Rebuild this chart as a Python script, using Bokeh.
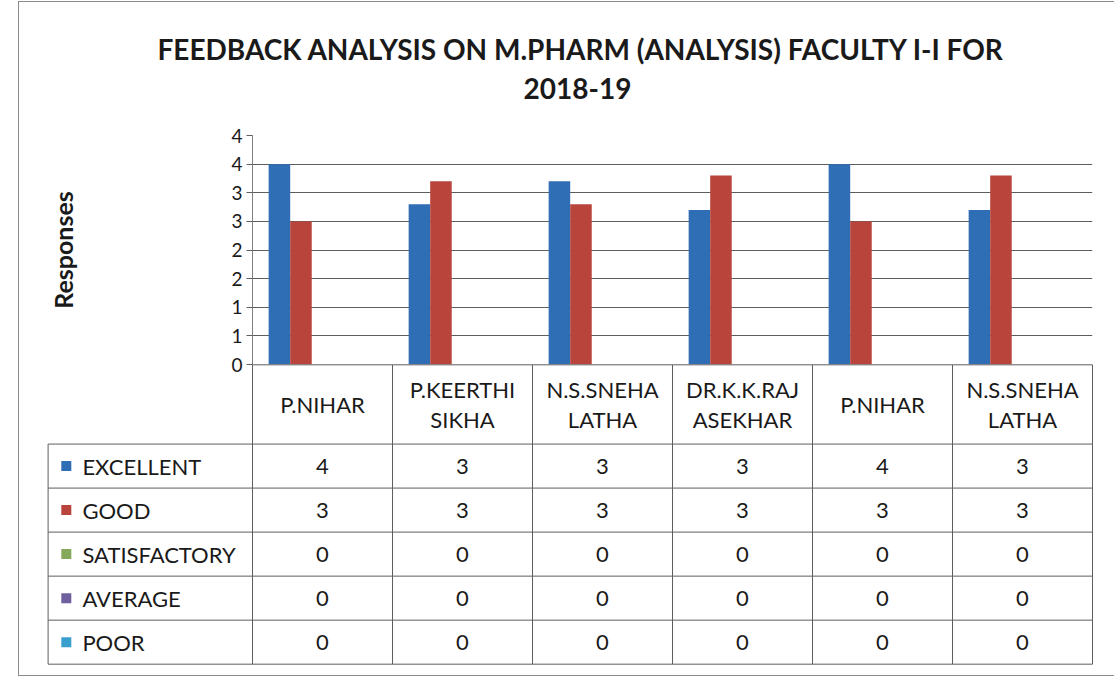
import math
from bokeh.plotting import figure
from bokeh.models import Range1d, FixedTicker, CustomJSTickFormatter, Title, ColumnDataSource
from bokeh.embed import file_html
from bokeh.resources import INLINE
from bokeh.core.properties import value

# ---------------- data ----------------
title_line1 = "FEEDBACK ANALYSIS ON M.PHARM (ANALYSIS) FACULTY I-I FOR"
title_line2 = "2018-19"
y_label = "Responses"
faculty = ["P.NIHAR", "P.KEERTHI\nSIKHA", "N.S.SNEHA\nLATHA", "DR.K.K.RAJ\nASEKHAR", "P.NIHAR", "N.S.SNEHA\nLATHA"]
series_names = ["EXCELLENT", "GOOD", "SATISFACTORY", "AVERAGE", "POOR"]
excellent = [3.5, 2.8, 3.2, 2.7, 3.5, 2.7]
good = [2.5, 3.2, 2.8, 3.3, 2.5, 3.3]
satisfactory = [0, 0, 0, 0, 0, 0]
average = [0, 0, 0, 0, 0, 0]
poor = [0, 0, 0, 0, 0, 0]
y_ticks = [0, 0.5, 1, 1.5, 2, 2.5, 3, 3.5, 4]

# ---------------- style ----------------
colors = ["#2f6db5", "#b9443b", "#86a85a", "#6f5f9e", "#3a9fcc"]
FONT = "Lato"
GRID = "#5e5e5e"
TXT = "#1a1a1a"
BORDER = "1px solid #8a8a8a"
W = 1096

all_series = [excellent, good, satisfactory, average, poor]
n_cat = len(faculty)
n_ser = len(all_series)
bar_w = 1.0 / (n_ser + 1.5)

# ---------------- chart (bars) ----------------
p = figure(width=W, height=376, x_range=Range1d(0, n_cat), y_range=Range1d(y_ticks[0], y_ticks[-1]),
           output_backend="svg", toolbar_location=None, x_axis_location=None,
           min_border_left=233, min_border_right=23, min_border_top=133, min_border_bottom=14,
           title=title_line1)
p.styles = {"margin-left": "18px", "margin-top": "1px", "border-left": BORDER, "border-top": BORDER}
p.outline_line_color = None
p.background_fill_color = "white"
p.border_fill_color = "white"
p.title.text_font = FONT
p.title.text_font_size = "28px"
p.title.text_font_style = "bold"
p.title.align = "left"
p.title.offset = -95
p.title.text_color = TXT
p.add_layout(Title(text=" ", text_font_size="18px"), "above")
p.add_layout(Title(text=title_line2, text_font=FONT, text_font_size="28px", text_font_style="bold",
                   align="left", offset=271, text_color=TXT), "above")

p.xgrid.visible = False
p.ygrid.ticker = FixedTicker(ticks=y_ticks)
p.ygrid.grid_line_color = GRID
p.ygrid.grid_line_width = 1

ax = p.yaxis[0]
ax.ticker = FixedTicker(ticks=y_ticks)
ax.formatter = CustomJSTickFormatter(code="return Math.round(tick).toString();")
ax.major_label_text_font = FONT
ax.major_label_text_font_size = "19px"
ax.major_label_text_color = TXT
ax.major_tick_in = 0
ax.major_tick_out = 6
ax.major_tick_line_color = GRID
ax.minor_tick_line_color = None
ax.axis_line_color = "#7f7f7f"
ax.major_label_standoff = 4
ax.axis_label = y_label
ax.axis_label_text_font = FONT
ax.axis_label_text_font_size = "25px"
ax.axis_label_text_font_style = "bold"
ax.axis_label_text_color = TXT
ax.axis_label_standoff = 150

xs = [i + 0.5 for i in range(n_cat)]
for k, (vals, col) in enumerate(zip(all_series, colors)):
    src = ColumnDataSource(dict(x=[x + (k - (n_ser - 1) / 2) * bar_w for x in xs], top=vals))
    p.vbar(x="x", top="top", bottom=0, width=bar_w, source=src, fill_color=col, line_color=None)

# ---------------- data table ----------------
HEAD = 1.8
n_rows = len(series_names)
LEFT = -1.46
t = figure(width=W, height=313, x_range=Range1d(-1.5, n_cat + 0.05), y_range=Range1d(HEAD + n_rows + 0.03, -0.03),
           output_backend="svg", toolbar_location=None, x_axis_location=None, y_axis_location=None,
           min_border_left=23, min_border_right=16, min_border_top=0, min_border_bottom=11)
t.styles = {"margin-left": "18px", "margin-top": "-14px", "border-left": BORDER, "border-bottom": BORDER}
t.outline_line_color = None
t.grid.visible = False
t.background_fill_alpha = 0
t.border_fill_alpha = 0

# horizontal lines
hx0 = [0] + [LEFT] * (n_rows + 1)
hy = [0] + [HEAD + r for r in range(n_rows + 1)]
t.segment(x0=hx0, y0=hy, x1=[n_cat] * len(hy), y1=hy, line_color=GRID, line_width=1)
# vertical lines
vx = [LEFT] + list(range(n_cat + 1))
vy0 = [HEAD] + [0] * (n_cat + 1)
t.segment(x0=vx, y0=vy0, x1=vx, y1=[HEAD + n_rows] * len(vx), line_color=GRID, line_width=1)

# header texts
t.text(x=xs, y=[HEAD / 2] * n_cat, text=faculty, text_font=value(FONT), text_font_size="22px",
       text_align="center", text_baseline="middle", text_color=TXT, text_line_height=1.14)

# legend keys + names
row_c = [HEAD + r + 0.5 for r in range(n_rows)]
t.scatter(x=[LEFT + 0.13] * n_rows, y=row_c, marker="square", size=10, fill_color=colors, line_color=None)
t.text(x=[LEFT + 0.245] * n_rows, y=row_c, text=series_names, text_font=value(FONT), text_font_size="22px",
       text_align="left", text_baseline="middle", text_color=TXT)

# values
cx, cy, ct = [], [], []
for r, vals in enumerate(all_series):
    for i, v in enumerate(vals):
        cx.append(xs[i])
        cy.append(row_c[r])
        ct.append(str(int(math.floor(v + 0.5))))
t.text(x=cx, y=cy, text=ct, text_font=value(FONT), text_font_size="22px",
       text_align="center", text_baseline="middle", text_color=TXT)

open("out.html", "w").write(file_html([p, t], INLINE))
